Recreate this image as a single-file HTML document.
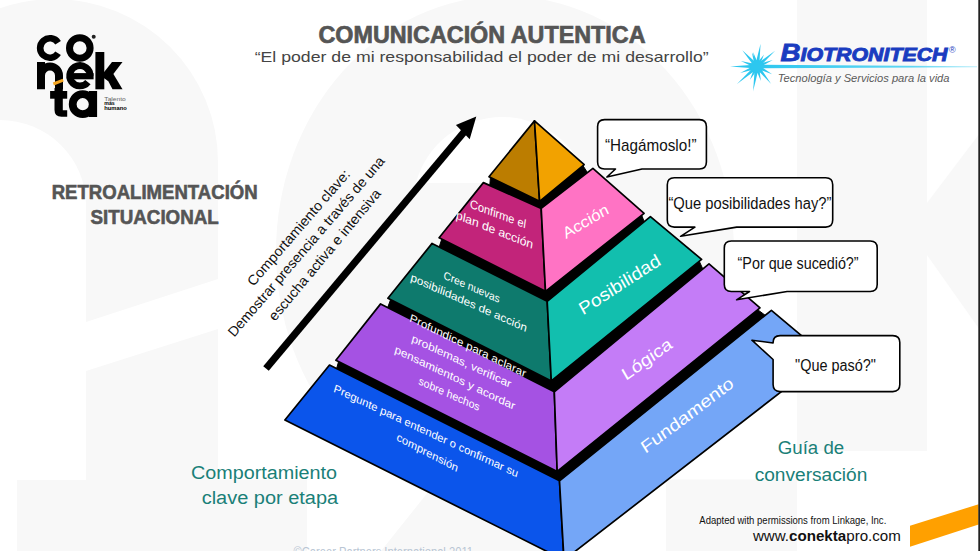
<!DOCTYPE html>
<html><head><meta charset="utf-8"><style>
html,body{margin:0;padding:0;background:#fff;overflow:hidden}
svg{display:block}
text{font-family:"Liberation Sans", sans-serif}
</style></head><body>
<svg width="980" height="551" viewBox="0 0 980 551">
<rect width="980" height="551" fill="#fff"/>
<path d="M-110,551 V162 A163,162 0 0 1 218,162 V551 Z" fill="#f8f8f8"/><path d="M-10,480 V205 Q-10,120 0,120 A86,85 0 0 1 86,205 V480 Z" fill="#fff"/><rect x="-10" y="480" width="27" height="80" fill="#fff"/><polygon points="86.0,322.0 218.0,279.0 218.0,329.0 86.0,371.0" fill="#fff"/><ellipse cx="505" cy="252" rx="229" ry="256" fill="#f8f8f8"/><path d="M416,183 A89,89 0 0 1 588,183 Z" fill="#fff"/><rect x="217" y="479.5" width="90" height="80" fill="#f8f8f8"/><polygon points="381.0,551.0 560.0,327.0 560.0,551.0" fill="#f8f8f8"/><rect x="797" y="0" width="130" height="451" fill="#f8f8f8"/><polygon points="927.0,203.0 980.0,133.0 980.0,330.0 927.0,255.0" fill="#f8f8f8"/><rect x="666" y="479.5" width="131" height="80" fill="#f8f8f8"/>
<text x="318.5" y="42.6" font-size="23.5" fill="#555" text-anchor="start" font-weight="bold" font-style="normal" textLength="327" lengthAdjust="spacingAndGlyphs" stroke="#555" stroke-width="0.7">COMUNICACIÓN AUTENTICA</text><text x="254.7" y="62.3" font-size="14.8" fill="#444" text-anchor="start" font-weight="normal" font-style="normal" textLength="454" lengthAdjust="spacingAndGlyphs">“El poder de mi responsabilidad el poder de mi desarrollo”</text><text x="51.7" y="199.2" font-size="19.5" fill="#555" text-anchor="start" font-weight="bold" font-style="normal" textLength="206" lengthAdjust="spacingAndGlyphs" stroke="#555" stroke-width="0.6">RETROALIMENTACIÓN</text><text x="90.5" y="223.6" font-size="19.5" fill="#555" text-anchor="start" font-weight="bold" font-style="normal" textLength="128.3" lengthAdjust="spacingAndGlyphs" stroke="#555" stroke-width="0.6">SITUACIONAL</text><text x="337" y="478.8" font-size="18" fill="#1a8078" text-anchor="end" font-weight="normal" font-style="normal" textLength="146" lengthAdjust="spacingAndGlyphs">Comportamiento</text><text x="338.2" y="503.6" font-size="18" fill="#1a8078" text-anchor="end" font-weight="normal" font-style="normal" textLength="136.5" lengthAdjust="spacingAndGlyphs">clave por etapa</text><text x="811" y="453.7" font-size="17.5" fill="#1a8078" text-anchor="middle" font-weight="normal" font-style="normal" textLength="66.4" lengthAdjust="spacingAndGlyphs">Guía de</text><text x="811" y="480.8" font-size="17.5" fill="#1a8078" text-anchor="middle" font-weight="normal" font-style="normal" textLength="112.7" lengthAdjust="spacingAndGlyphs">conversación</text><text x="699.3" y="523.6" font-size="10.5" fill="#111" text-anchor="start" font-weight="normal" font-style="normal" textLength="187" lengthAdjust="spacingAndGlyphs">Adapted with permissions from Linkage, Inc.</text><text x="752.9" y="541" font-size="15" fill="#111" textLength="148" lengthAdjust="spacingAndGlyphs">www.<tspan font-weight="bold">conekta</tspan>pro.com</text><text x="293.5" y="556" font-size="13" fill="#b9c6d4" text-anchor="start" font-weight="normal" font-style="normal" textLength="179.5" lengthAdjust="spacingAndGlyphs">©Career Partners International 2011</text>
<g fill="none" stroke="#000" stroke-width="7"><path d="M58.08,42.69 A9.75,9.75 0 1 0 58.08,53.31" stroke-width="6.6"/><circle cx="79.8" cy="48" r="10.3"/><path d="M41,89.3 V62 M41,75.5 A9,9 0 0 1 59,75.5 V89.3" stroke-width="8"/><path d="M90.1,75.75 A10.2,10.2 0 1 0 87.9,82.1" stroke-width="6.8"/><circle cx="82.7" cy="104.2" r="10" stroke-width="7.8"/></g><rect x="72" y="73.1" width="21.6" height="6.2" fill="#000"/><rect x="95.4" y="52" width="8.9" height="37.3" fill="#000"/><polygon points="101.0,76.0 112.0,62.0 122.5,62.0 108.0,81.0" fill="#000"/><polygon points="104.0,73.0 111.0,70.0 122.5,89.3 112.5,89.3" fill="#000"/><path d="M54.5,88 V110 Q54.5,116.8 61.5,116.8 H67.2 V110.2 H62.8 V88 Z" fill="#000"/><rect x="50.1" y="91" width="17.1" height="7.7" fill="#000"/><rect x="89" y="91" width="8.1" height="26" fill="#000"/><line x1="53.4" y1="84" x2="63.2" y2="80.1" stroke="#f5a623" stroke-width="3"/><circle cx="93.7" cy="36.7" r="2" fill="#222"/><text x="104.3" y="100.5" font-size="5.2" fill="#666" text-anchor="start" font-weight="normal" font-style="normal" textLength="21.5" lengthAdjust="spacingAndGlyphs">Talento</text><text x="104.3" y="105" font-size="5" fill="#000" text-anchor="start" font-weight="bold" font-style="normal" textLength="10.5" lengthAdjust="spacingAndGlyphs">más</text><text x="104.3" y="109.5" font-size="5" fill="#000" text-anchor="start" font-weight="bold" font-style="normal" textLength="22.5" lengthAdjust="spacingAndGlyphs">humano</text>
<g fill="#2dc7ef"><polygon points="759.1,66.8 760.6,43.8 754.9,66.2" fill="#2dc7ef"/><polygon points="758.8,67.5 764.0,54.4 755.2,65.5" fill="#2dc7ef"/><polygon points="758.4,68.1 775.1,50.8 755.6,64.9" fill="#2dc7ef"/><polygon points="757.8,68.4 772.8,60.1 756.2,64.6" fill="#2dc7ef"/><polygon points="756.0,68.4 772.1,74.2 758.0,64.6" fill="#2dc7ef"/><polygon points="755.4,67.8 771.2,84.0 758.6,65.2" fill="#2dc7ef"/><polygon points="755.0,67.0 760.9,81.0 759.0,66.0" fill="#2dc7ef"/><polygon points="754.9,66.2 753.1,91.2 759.1,66.8" fill="#2dc7ef"/><polygon points="755.1,65.5 750.0,79.7 758.9,67.5" fill="#2dc7ef"/><polygon points="755.6,64.9 737.0,83.9 758.4,68.1" fill="#2dc7ef"/><polygon points="756.2,64.5 740.2,73.0 757.8,68.5" fill="#2dc7ef"/><polygon points="757.0,64.4 730.0,66.5 757.0,68.6" fill="#2dc7ef"/><polygon points="757.7,64.5 740.9,61.0 756.3,68.5" fill="#2dc7ef"/><polygon points="758.6,65.1 742.3,50.2 755.4,67.9" fill="#2dc7ef"/><polygon points="759.0,65.8 751.9,52.4 755.0,67.2" fill="#2dc7ef"/><polygon points="759.0,66.0 753.1,52.0 755.0,67.0" fill="#2dc7ef"/><circle cx="757" cy="66.5" r="6.5"/></g><defs><linearGradient id="fl" x1="0" x2="1"><stop offset="0" stop-color="#2dc7ef"/><stop offset="0.7" stop-color="#5fd6f3"/><stop offset="1" stop-color="#bdeefa"/></linearGradient></defs><polygon points="757,64.8 977,66.3 977,67.3 757,68.2" fill="url(#fl)"/><text x="780.5" y="61.3" font-size="18.5" fill="#1a3cc0" font-weight="bold" font-style="italic" stroke="#1a3cc0" stroke-width="0.9" textLength="167" lengthAdjust="spacingAndGlyphs"><tspan font-size="24">B</tspan>IOTRONITECH</text><text x="949" y="53" font-size="9" fill="#1a3cc0">®</text><text x="777.8" y="81.7" font-size="11.3" fill="#5a5a5a" text-anchor="start" font-weight="normal" font-style="italic" textLength="171.7" lengthAdjust="spacingAndGlyphs">Tecnología y Servicios para la vida</text>
<line x1="266" y1="368.5" x2="467" y2="128.5" stroke="#000" stroke-width="7.2"/><polygon points="476.3,116.4 455.9,125.1 469.7,139.3" fill="#000"/><text transform="matrix(0.6548,-0.7558,0.7558,0.6548,253.5,287.0)" x="0" y="0" font-size="14" fill="#111" font-weight="normal" textLength="148.6" lengthAdjust="spacingAndGlyphs">Comportamiento clave:</text><text transform="matrix(0.6515,-0.7587,0.7587,0.6515,234.2,337.8)" x="0" y="0" font-size="14" fill="#111" font-weight="normal" textLength="232.2" lengthAdjust="spacingAndGlyphs">Demostrar presencia a través de una</text><text transform="matrix(0.6408,-0.7677,0.7677,0.6408,275.1,321.7)" x="0" y="0" font-size="14" fill="#111" font-weight="normal" textLength="166.3" lengthAdjust="spacingAndGlyphs">escucha activa e intensiva</text>
<polygon points="489.8,185.5 490.4,177.5 539.6,201.3 583.0,165.7 587.4,172.6 541.2,208.4" fill="#000" stroke="#000" stroke-width="1.0" stroke-linejoin="round"/><polygon points="439.2,247.0 441.8,239.0 545.5,291.3 641.7,215.2 644.2,221.7 547.2,301.3" fill="#000" stroke="#000" stroke-width="1.0" stroke-linejoin="round"/><polygon points="387.7,307.5 390.6,299.6 551.3,381.0 699.3,261.3 702.8,268.9 554.3,391.8" fill="#000" stroke="#000" stroke-width="1.0" stroke-linejoin="round"/><polygon points="336.6,368.6 338.6,361.5 557.2,471.5 757.7,309.7 765.2,315.3 559.5,480.8" fill="#000" stroke="#000" stroke-width="1.0" stroke-linejoin="round"/><polygon points="534.5,120.9 489.0,176.8 539.6,201.3" fill="#bc7d00" stroke="#000" stroke-width="1.7" stroke-linejoin="round"/><polygon points="534.5,120.9 539.6,201.3 584.2,164.7" fill="#f2a200" stroke="#000" stroke-width="1.7" stroke-linejoin="round"/><polygon points="483.4,182.6 541.2,208.4 545.5,291.3 439.1,237.7" fill="#c2247a" stroke="#000" stroke-width="1.7" stroke-linejoin="round"/><polygon points="541.2,208.4 592.9,168.3 644.1,213.3 545.5,291.3" fill="#ff73c4" stroke="#000" stroke-width="1.7" stroke-linejoin="round"/><polygon points="432.1,243.4 547.2,301.3 551.3,381.0 387.9,298.2" fill="#0e7a6d" stroke="#000" stroke-width="1.7" stroke-linejoin="round"/><polygon points="547.2,301.3 650.4,216.6 701.6,259.4 551.3,381.0" fill="#12bfae" stroke="#000" stroke-width="1.7" stroke-linejoin="round"/><polygon points="380.6,303.9 554.3,391.8 557.2,471.5 335.9,360.2" fill="#a552e3" stroke="#000" stroke-width="1.7" stroke-linejoin="round"/><polygon points="554.3,391.8 709.0,263.8 760.0,307.8 557.2,471.5" fill="#c47cf7" stroke="#000" stroke-width="1.7" stroke-linejoin="round"/><polygon points="329.5,365.0 559.5,480.8 564.0,560.0 284.9,420.0" fill="#0b55eb" stroke="#000" stroke-width="1.7" stroke-linejoin="round"/><polygon points="559.5,480.8 771.4,310.3 826.5,356.7 564.0,560.0" fill="#74a6f7" stroke="#000" stroke-width="1.7" stroke-linejoin="round"/>
<text transform="matrix(0.9363,0.3511,-0.1392,0.9903,469.5,207.5)" x="0" y="0" font-size="12" fill="#fff" font-weight="normal" textLength="59.8" lengthAdjust="spacingAndGlyphs">Confirme el</text><text transform="matrix(0.9297,0.3683,-0.1736,0.9848,455.5,218.5)" x="0" y="0" font-size="12" fill="#fff" font-weight="normal" textLength="82.8" lengthAdjust="spacingAndGlyphs">plan de acción</text><text transform="matrix(0.9162,0.4008,-0.2079,0.9781,443.0,278.5)" x="0" y="0" font-size="11" fill="#fff" font-weight="normal" textLength="61.1" lengthAdjust="spacingAndGlyphs">Cree nuevas</text><text transform="matrix(0.9140,0.4058,-0.2419,0.9703,410.0,280.5)" x="0" y="0" font-size="11" fill="#fff" font-weight="normal" textLength="126.9" lengthAdjust="spacingAndGlyphs">posibilidades de acción</text><text transform="matrix(0.8990,0.4379,-0.2588,0.9659,409.0,321.0)" x="0" y="0" font-size="11" fill="#fff" font-weight="normal" textLength="129.0" lengthAdjust="spacingAndGlyphs">Profundice para aclarar</text><text transform="matrix(0.9051,0.4251,-0.2588,0.9659,411.0,341.5)" x="0" y="0" font-size="11" fill="#fff" font-weight="normal" textLength="109.4" lengthAdjust="spacingAndGlyphs">problemas, verificar</text><text transform="matrix(0.9018,0.4321,-0.2588,0.9659,394.0,352.5)" x="0" y="0" font-size="11" fill="#fff" font-weight="normal" textLength="133.1" lengthAdjust="spacingAndGlyphs">pensamientos y acordar</text><text transform="matrix(0.9132,0.4075,-0.2588,0.9659,418.0,384.0)" x="0" y="0" font-size="11" fill="#fff" font-weight="normal" textLength="66.3" lengthAdjust="spacingAndGlyphs">sobre hechos</text><text transform="matrix(0.9059,0.4234,-0.2756,0.9613,333.0,391.5)" x="0" y="0" font-size="11" fill="#fff" font-weight="normal" textLength="203.1" lengthAdjust="spacingAndGlyphs">Pregunte para entender o confirmar su</text><text transform="matrix(0.8855,0.4645,-0.2756,0.9613,396.0,440.0)" x="0" y="0" font-size="11" fill="#fff" font-weight="normal" textLength="68.9" lengthAdjust="spacingAndGlyphs">comprensión</text><text transform="matrix(0.8609,-0.5087,0.4384,0.8988,566.0,239.0)" x="0" y="0" font-size="15.5" fill="#fff" font-weight="normal" textLength="51.1" lengthAdjust="spacingAndGlyphs">Acción</text><text transform="matrix(0.8377,-0.5461,0.4848,0.8746,583.0,315.5)" x="0" y="0" font-size="17.5" fill="#fff" font-weight="normal" textLength="94.3" lengthAdjust="spacingAndGlyphs">Posibilidad</text><text transform="matrix(0.8132,-0.5820,0.5000,0.8660,626.0,381.0)" x="0" y="0" font-size="17" fill="#fff" font-weight="normal" textLength="58.4" lengthAdjust="spacingAndGlyphs">Lógica</text><text transform="matrix(0.7962,-0.6050,0.5299,0.8480,645.5,454.0)" x="0" y="0" font-size="17" fill="#fff" font-weight="normal" textLength="112.4" lengthAdjust="spacingAndGlyphs">Fundamento</text>
<path d="M604.6,119.6 H699.4 Q706.4,119.6 706.4,126.6 V162 Q706.4,169 699.4,169 H642 L606.9,177 L615.5,169 H604.6 Q597.6,169 597.6,162 V126.6 Q597.6,119.6 604.6,119.6 Z" fill="#fff" stroke="#000" stroke-width="1.6" stroke-linejoin="round"/><path d="M674.3,177.8 H825.7 Q832.7,177.8 832.7,184.8 V220.1 Q832.7,227.1 825.7,227.1 H736.7 L680.6,236.3 L694.9,227.1 H674.3 Q667.3,227.1 667.3,220.1 V184.8 Q667.3,177.8 674.3,177.8 Z" fill="#fff" stroke="#000" stroke-width="1.6" stroke-linejoin="round"/><path d="M731.3,241 H870.2 Q877.2,241 877.2,248 V284.5 Q877.2,291.5 870.2,291.5 H787.1 L736.6,299.8 L749.5,291.5 H731.3 Q724.3,291.5 724.3,284.5 V248 Q724.3,241 731.3,241 Z" fill="#fff" stroke="#000" stroke-width="1.6" stroke-linejoin="round"/><path d="M780.1,335.6 H892.8 Q899.8,335.6 899.8,342.6 V384.6 Q899.8,391.6 892.8,391.6 H780.1 Q773.1,391.6 773.1,384.6 V359.5 L751.9,340.2 L773.1,343 V342.6 Q773.1,335.6 780.1,335.6 Z" fill="#fff" stroke="#000" stroke-width="1.6" stroke-linejoin="round"/><text x="605" y="150.5" font-size="16.4" fill="#111" text-anchor="start" font-weight="normal" font-style="normal" textLength="91.5" lengthAdjust="spacingAndGlyphs">“Hagámoslo!”</text><text x="668.4" y="208.8" font-size="16" fill="#111" text-anchor="start" font-weight="normal" font-style="normal" textLength="163" lengthAdjust="spacingAndGlyphs">“Que posibilidades hay?”</text><text x="737.6" y="268.6" font-size="16" fill="#111" text-anchor="start" font-weight="normal" font-style="normal" textLength="121" lengthAdjust="spacingAndGlyphs">“Por que sucedió?”</text><text x="795.1" y="370.5" font-size="16" fill="#111" text-anchor="start" font-weight="normal" font-style="normal" textLength="80.8" lengthAdjust="spacingAndGlyphs">"Que pasó?"</text>
<polygon points="910.0,525.8 978.6,504.2 978.6,524.5 910.0,546.8" fill="#ffa000"/><rect x="978.3" y="0" width="1.7" height="551" fill="#222"/>
</svg></body></html>
